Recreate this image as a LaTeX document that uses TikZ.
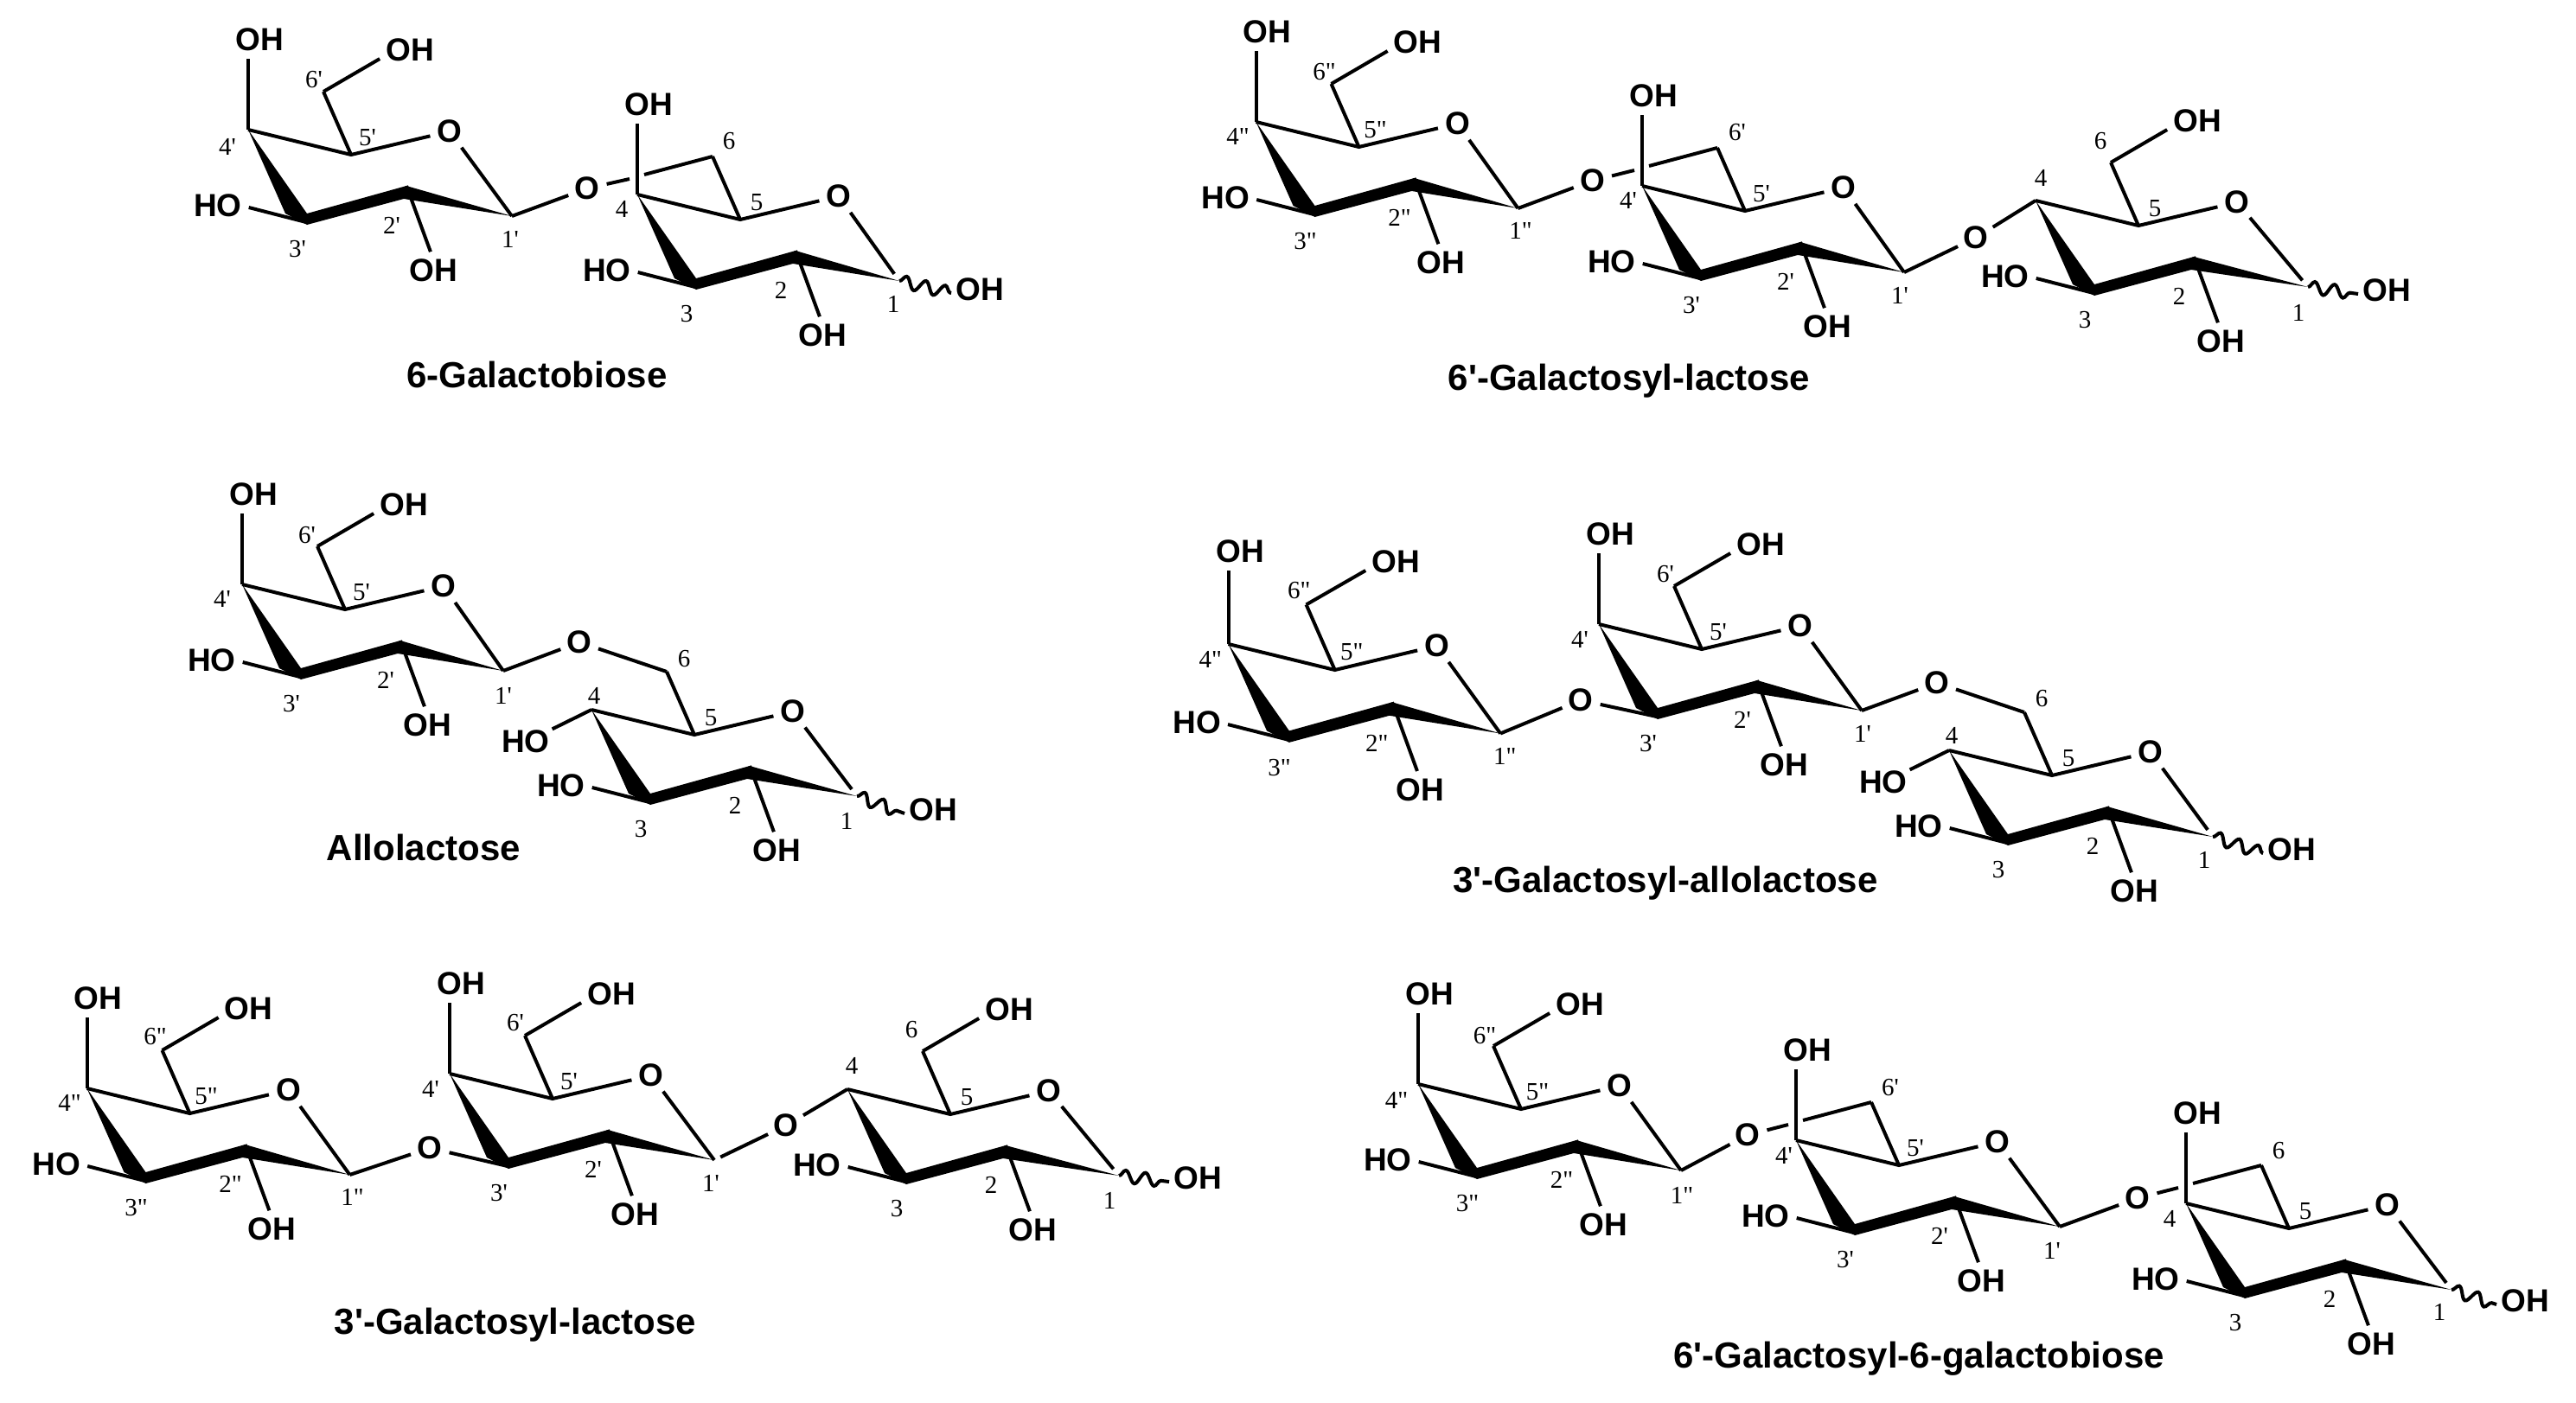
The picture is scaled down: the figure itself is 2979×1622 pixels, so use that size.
\documentclass[tikz,border=0pt]{standalone}
\usepackage{fontspec}
\setmainfont{Liberation Sans}
\newfontfamily\numfont{Liberation Serif}
\usetikzlibrary{calc,decorations.pathmorphing}
\newcommand\pr{\textquotesingle}
\tikzset{
  bond/.style={line width=4pt,line cap=butt,line join=miter},
  chem/.style={font=\bfseries\fontsize{37}{40}\selectfont,inner sep=0pt},
  atomO/.style={circle,inner sep=0pt,minimum size=46pt,font=\bfseries\fontsize{37}{40}\selectfont},
  num/.style={font=\numfont\fontsize{29}{30}\selectfont,inner sep=0pt},
  title/.style={font=\bfseries\fontsize{42}{44}\selectfont,inner sep=0pt},
  wavy/.style={line width=4pt,decorate,decoration={snake,segment length=23pt,amplitude=7pt}}
}
% ring: name, x, y, scale, C1 offset, shortening of O-C1, substituents
\newcommand\gal[7]{\def\P{#1}%
  \begin{scope}[shift={(#2,#3)},scale=#4]
    \coordinate (\P-c4) at (0,0);
    \coordinate (\P-c5) at (119,29);
    \coordinate (\P-c1) at (#5,100);
    \coordinate (\P-c2) at (183,65);
    \coordinate (\P-c3) at (67,107);
    \coordinate (\P-c6) at (87,-44);
    \coordinate (\P-gl) at (-9,-18);
    \coordinate (\P-gr) at (8,-23);
    \node[atomO] (\P-o) at (233,2) {O};
    \fill (\P-c4) -- (68,97) -- (183,65) -- (\P-c1) -- (180,80) -- (68,110) -- (43,97) -- cycle;
    \draw[bond] (\P-c6) -- (\P-c5);
    \draw[bond] (\P-c4) -- (\P-c5) -- (\P-o);
    \draw[bond,shorten >=#6pt] (\P-o) -- (\P-c1);
    #7
  \end{scope}}
\newcommand\topOH{%
  \node[chem] (\P-oh4) at (13,-104) {OH};
  \draw[bond,shorten >=9pt] (\P-c4) -- (\P-c4 |- \P-oh4.south);}
\newcommand\sixOH{%
  \node[chem] (\P-oh6) at (187,-92) {OH};
  \draw[bond,shorten >=8pt] (\P-c6) -- ($(\P-oh6.west)+(0,6)$);}
\newcommand\hoThree{%
  \node[chem] (\P-ho3) at (-35,88) {HO};
  \draw[bond,shorten >=8pt] (\P-c3) -- (\P-ho3.east);}
\newcommand\hoFour{%
  \node[chem] (\P-ho4) at (-76,37) {HO};
  \draw[bond,shorten >=3pt] (\P-c4) -- (\P-ho4.north east);}
\newcommand\ohTwo{%
  \node[chem] (\P-oh2) at (214,163) {OH};
  \draw[bond,shorten >=9pt] (\P-c2) -- (\P-oh2.north);}
\newcommand\wavyOH[2]{%
  \node[chem] (\P-oh1) at (#1,#2) {OH};
  \draw[wavy] (\P-c1) -- ($(\P-oh1.west)+(-5,4)$);}
% position labels: prime, 4x, 4y, 6x, 6y, 1x, 1y
\newcommand\nums[7]{%
  \node[num] (\P-n4) at (#2,#3) {4#1};
  \node[num] (\P-n5) at (138,9) {5#1};
  \node[num] (\P-n6) at (#4,#5) {6#1};
  \node[num] (\P-n3) at (57,138) {3#1};
  \node[num] (\P-n2) at (166,111) {2#1};
  \node[num] (\P-n1) at (#6,#7) {1#1};}
\newcommand\crossed[2]{%
  \draw[bond] (#1) -- (#2-gl);
  \draw[bond] (#2-gr) -- (#2-c6);}
\begin{document}
\begin{tikzpicture}[x=1pt,y=-1pt]
\useasboundingbox (0,0) rectangle (2979,1622);
\fill[white] (0,0) rectangle (2979,1622);
% --- 6-Galactobiose
\gal{aa}{287}{150}{1}{305}{0}{\topOH\sixOH\hoThree\ohTwo\nums{\pr}{-24}{20}{76}{-58}{303}{127}}
\gal{ab}{737}{225}{1}{303}{10}{\topOH\hoThree\ohTwo\wavyOH{396}{110}\nums{}{-18}{17}{106}{-62}{296}{127}}
\node[atomO] (ag) at (679,218) {O};
\draw[bond] (aa-c1) -- (ag);
\crossed{ag}{ab}
\node[title] (at) at (621,433) {6-Galactobiose};
% --- 6'-Galactosyl-lactose
\gal{ba}{1452.5}{141}{1}{303}{0}{\topOH\sixOH\hoThree\ohTwo\nums{"}{-21}{17}{79}{-58}{306}{126}}
\gal{bb}{1899}{215}{1}{303}{0}{\topOH\hoThree\ohTwo\nums{\pr}{-16}{17}{110}{-62}{298}{127}}
\gal{bc}{2354}{232}{1}{315}{10}{\sixOH\hoThree\ohTwo\wavyOH{406}{104}\nums{}{6}{-26}{75}{-69}{304}{130}}
\node[atomO] (bg1) at (1841.5,209) {O};
\node[atomO] (bg2) at (2285,275) {O};
\draw[bond] (ba-c1) -- (bg1);
\crossed{bg1}{bb}
\draw[bond] (bb-c1) -- (bg2);
\draw[bond] (bg2) -- (bc-c4);
\node[title] (bt) at (1884,441) {6\pr-Galactosyl-lactose};
% --- Allolactose
\gal{ca}{280}{676}{1}{302}{0}{\topOH\sixOH\hoThree\ohTwo\nums{\pr}{-23}{17}{75}{-57}{302}{129}}
\gal{cb}{684}{821}{1}{307}{10}{\hoFour\hoThree\ohTwo\wavyOH{395}{116}\nums{}{3}{-16}{107}{-59}{295}{129}}
\node[atomO] (cg) at (670,743) {O};
\draw[bond] (ca-c1) -- (cg);
\draw[bond] (cg) -- (cb-c6);
\node[title] (ct) at (490,980) {Allolactose};
% --- 3'-Galactosyl-allolactose
\gal{da}{1420.5}{745}{1.035}{304}{0}{\topOH\sixOH\hoThree\ohTwo\nums{"}{-20}{17}{79}{-60}{309}{126}}
\gal{db}{1849}{722}{1}{304}{0}{\topOH\sixOH\ohTwo\nums{\pr}{-22}{18}{77}{-58}{305}{127}}
\gal{dc}{2254}{868}{1}{305}{10}{\hoFour\hoThree\ohTwo\wavyOH{396}{115}\nums{}{3}{-17}{107}{-60}{295}{127}}
\node[atomO] (dg1) at (1828,810) {O};
\node[atomO] (dg2) at (2240,790) {O};
\draw[bond] (da-c1) -- (dg1);
\draw[bond] (dg1) -- (db-c3);
\draw[bond] (db-c1) -- (dg2);
\draw[bond] (dg2) -- (dc-c6);
\node[title] (dt) at (1926,1022) {3\pr-Galactosyl-allolactose};
% --- 3'-Galactosyl-lactose
\gal{ea}{100.5}{1259}{1}{304}{0}{\topOH\sixOH\hoThree\ohTwo\nums{"}{-20}{17}{79}{-60}{307}{126}}
\gal{eb}{520}{1242}{1}{306}{0}{\topOH\sixOH\ohTwo\nums{\pr}{-22}{18}{76}{-59}{302}{127}}
\gal{ec}{980}{1260}{1}{314}{10}{\sixOH\hoThree\ohTwo\wavyOH{405}{103}\nums{}{5}{-27}{74}{-69}{303}{129}}
\node[atomO] (eg1) at (497,1328) {O};
\node[atomO] (eg2) at (909,1302) {O};
\draw[bond] (ea-c1) -- (eg1);
\draw[bond] (eg1) -- (eb-c3);
\draw[bond,shorten <=8pt] (eb-c1) -- (eg2);
\draw[bond] (eg2) -- (ec-c4);
\node[title] (et) at (596,1533) {3\pr-Galactosyl-lactose};
% --- 6'-Galactosyl-6-galactobiose
\gal{fa}{1640}{1254}{1}{304}{0}{\topOH\sixOH\hoThree\ohTwo\nums{"}{-25}{19}{77}{-56}{305}{129}}
\gal{fb}{2077}{1319}{1}{305}{0}{\topOH\hoThree\ohTwo\nums{\pr}{-14}{18}{109}{-61}{296}{128}}
\gal{fc}{2528}{1392}{1}{307}{10}{\topOH\hoThree\ohTwo\wavyOH{392}{113}\nums{}{-19}{18}{107}{-61}{293}{126}}
\node[atomO] (fg1) at (2021,1313) {O};
\node[atomO] (fg2) at (2472,1386) {O};
\draw[bond] (fa-c1) -- (fg1);
\crossed{fg1}{fb}
\draw[bond] (fb-c1) -- (fg2);
\crossed{fg2}{fc}
\node[title] (ft) at (2219,1572) {6\pr-Galactosyl-6-galactobiose};
\end{tikzpicture}
\end{document}
